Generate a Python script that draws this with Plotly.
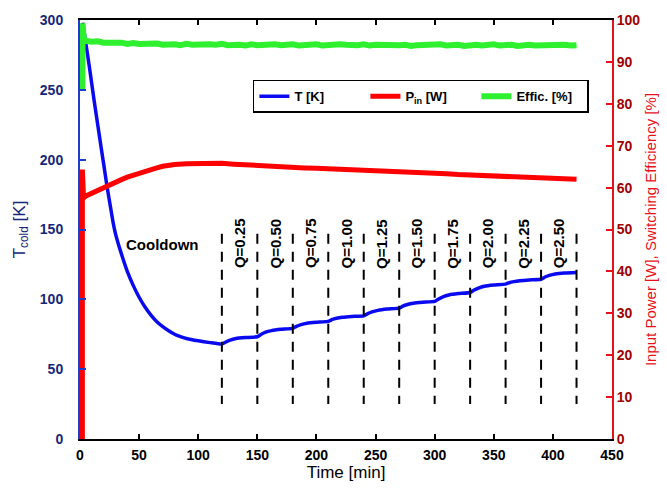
import plotly.graph_objects as go

# ---------------- data ----------------
t_T = [2.3, 5, 8, 10, 12, 15, 18, 20, 23, 26, 28, 30, 33, 36, 40, 45, 50, 55, 60, 65, 70, 75, 80, 85, 90, 100, 110, 120,
       123, 127, 132, 140, 150, 153, 157, 162, 170, 180, 183, 187, 192, 200, 210, 213, 217, 222, 230, 240,
       243, 247, 252, 260, 270, 273, 277, 282, 290, 300, 303, 307, 312, 320, 330, 333, 337, 342, 350, 360,
       363, 367, 372, 380, 390, 393, 397, 402, 410, 420]
T_cold = [298, 283, 266, 254, 242, 225, 208, 197, 180, 165, 155, 147, 138, 130, 120, 110, 101.5, 94.5, 88.7, 84, 80.5, 77.5, 75, 73.3, 72, 70.3, 69, 68,
          69.3, 70.8, 71.9, 72.6, 73.2, 74.8, 76.5, 77.6, 78.5, 79.2, 80.6, 81.9, 82.9, 83.6, 84.2, 85.4, 86.4, 87.1, 87.7, 88.2,
          89.6, 91.0, 92.1, 93.0, 93.7, 95.1, 96.3, 97.2, 97.9, 98.5, 100.1, 101.8, 103.1, 104.1, 104.9, 106.5, 108.1, 109.4, 110.3, 110.9,
          111.9, 112.7, 113.3, 113.9, 114.4, 115.8, 117.1, 118.1, 118.8, 119.2]

t_P = [2.0, 2.0, 2.3, 3.0, 5, 10, 15, 20, 25, 30, 35, 40, 45, 50, 55, 60, 65, 70, 75, 80, 90, 100, 110, 120, 130, 140, 150,
       160, 170, 180, 190, 200, 210, 220, 230, 240, 250, 260, 270, 280, 290, 300, 310, 320, 330, 340, 350, 360, 370,
       380, 390, 400, 410, 420]
P_in = [0, 64.3, 60, 57.5, 58, 58.7, 59.4, 60.0, 60.6, 61.3, 61.9, 62.5, 63.0, 63.4, 63.9, 64.3, 64.7, 65.1, 65.4, 65.5, 65.7, 65.8, 65.9, 65.8, 65.6, 65.4, 65.2,
        65.1, 64.9, 64.8, 64.7, 64.6, 64.5, 64.3, 64.2, 64.2, 64.1, 63.9, 63.8, 63.7, 63.5, 63.4, 63.3, 63.1, 63.0, 62.9, 62.7, 62.6, 62.5,
        62.4, 62.3, 62.2, 62.1, 62.0]

t_E = [2.0, 2.2, 3.0, 4.0] + list(range(5, 421, 5))
Effic = [83.5, 99.2, 96.0, 95.3,
         95.0, 94.8, 94.9, 94.6, 94.7, 94.5, 94.6, 94.3, 94.5, 94.3, 94.4, 94.2, 94.4, 94.1, 94.3, 94.2, 94.0, 94.3, 94.1, 94.2,
         94.0, 94.2, 94.1, 94.3, 94.0, 94.2, 94.1, 93.9, 94.2, 94.0, 94.1, 93.9, 94.2, 94.0, 94.1, 94.2, 93.9, 94.1, 94.0, 94.2,
         93.9, 94.1, 94.0, 94.2, 94.1, 93.9, 94.0, 94.2, 93.9, 94.1, 94.0, 94.2, 93.9, 94.0, 94.1, 93.8, 94.0, 94.1, 93.9, 94.0,
         94.2, 93.9, 94.0, 94.1, 93.8, 94.0, 94.1, 93.9, 94.0, 94.2, 93.9, 94.0, 94.1, 93.8, 94.0, 94.1, 93.9, 94.0, 94.1, 93.9,
         94.0, 94.1, 93.9, 94.0]

q_times = [120, 150, 180, 210, 240, 270, 300, 330, 360, 390, 420]
q_labels = ["Q=0.25", "Q=0.50", "Q=0.75", "Q=1.00", "Q=1.25", "Q=1.50", "Q=1.75", "Q=2.00", "Q=2.25", "Q=2.50"]
dash_range_K = [25, 147]
label_level_K = 140
cooldown_pos = (69, 139.5)

x_ticks = list(range(0, 451, 50))
yl_ticks = list(range(0, 301, 50))
yr_ticks = list(range(0, 101, 10))

# ---------------- figure ----------------
FONT = "Liberation Sans, Arial, sans-serif"
NAVY = "#16277a"
BLUE_SPINE = "#1f3cc8"
DKRED = "#a00000"
RED = "#e8101a"

fig = go.Figure()
fig.add_trace(go.Scatter(x=t_E, y=Effic, name="Effic. [%]", yaxis="y2", mode="lines",
                         line=dict(color="#2ef02e", width=6)))
fig.add_trace(go.Scatter(x=t_P, y=P_in, name="P<sub>in</sub> [W]", yaxis="y2", mode="lines",
                         line=dict(color="#ff0000", width=5)))
fig.add_trace(go.Scatter(x=t_T, y=T_cold, name="T [K]", yaxis="y", mode="lines",
                         line=dict(color="#0a0af0", width=3.5, shape="spline", smoothing=0.4)))

for q in q_times:
    fig.add_shape(type="line", xref="x", yref="y", x0=q, x1=q, y0=dash_range_K[1], y1=dash_range_K[0],
                  line=dict(color="black", width=2, dash="10px,8px"))

for i, lab in enumerate(q_labels):
    xm = (q_times[i] + q_times[i + 1]) / 2
    fig.add_annotation(x=xm, y=label_level_K, xref="x", yref="y", text=lab, textangle=-90, showarrow=False,
                       font=dict(family=FONT, size=15, color="black", weight="bold"))

fig.add_annotation(x=cooldown_pos[0], y=cooldown_pos[1], xref="x", yref="y", text="Cooldown", showarrow=False,
                   font=dict(family=FONT, size=15, color="black", weight="bold"))

fig.update_layout(
    width=667, height=488,
    margin=dict(l=72, r=63, t=12, b=57),
    paper_bgcolor="white", plot_bgcolor="white",
    font=dict(family=FONT),
    showlegend=True,
    legend=dict(orientation="h", x=0.325, y=0.857, xanchor="left", yanchor="top",
                bgcolor="white", bordercolor="black", borderwidth=1.5,
                entrywidth=66, entrywidthmode="pixels",
                font=dict(family=FONT, size=13, color="black", weight="bold"),
                traceorder="reversed"),
    xaxis=dict(range=[0, 450], tickvals=x_ticks, ticks="inside", ticklen=5, tickwidth=2, tickcolor="black",
               showline=True, linecolor="black", linewidth=2, mirror="ticks", showgrid=False, zeroline=False,
               ticklabelstandoff=2,
               tickfont=dict(family=FONT, size=14, color="black", weight="bold"),
               title=dict(text="Time [min]", font=dict(family=FONT, size=17, color="black"), standoff=3),
               automargin=False),
    yaxis=dict(range=[0, 300], tickvals=yl_ticks, ticks="inside", ticklen=6, tickwidth=2, tickcolor=BLUE_SPINE,
               showline=True, linecolor=BLUE_SPINE, linewidth=2, showgrid=False, zeroline=False,
               ticklabelstandoff=12,
               tickfont=dict(family=FONT, size=14, color=NAVY, weight="bold"),
               title=dict(text="T<sub>cold</sub> [K]", font=dict(family=FONT, size=17, color=NAVY), standoff=10),
               automargin=False),
    yaxis2=dict(range=[0, 100], tickvals=yr_ticks, overlaying="y", side="right", ticks="inside", ticklen=6,
                tickwidth=2, tickcolor=RED, showline=True, linecolor=RED, linewidth=2, showgrid=False,
                zeroline=False,
                tickfont=dict(family=FONT, size=14, color=DKRED, weight="bold"),
                title=dict(text="Input Power [W], Switching Efficiency [%]",
                           font=dict(family=FONT, size=15, color=RED), standoff=6),
                automargin=False),
)

fig.write_html("out.html")
